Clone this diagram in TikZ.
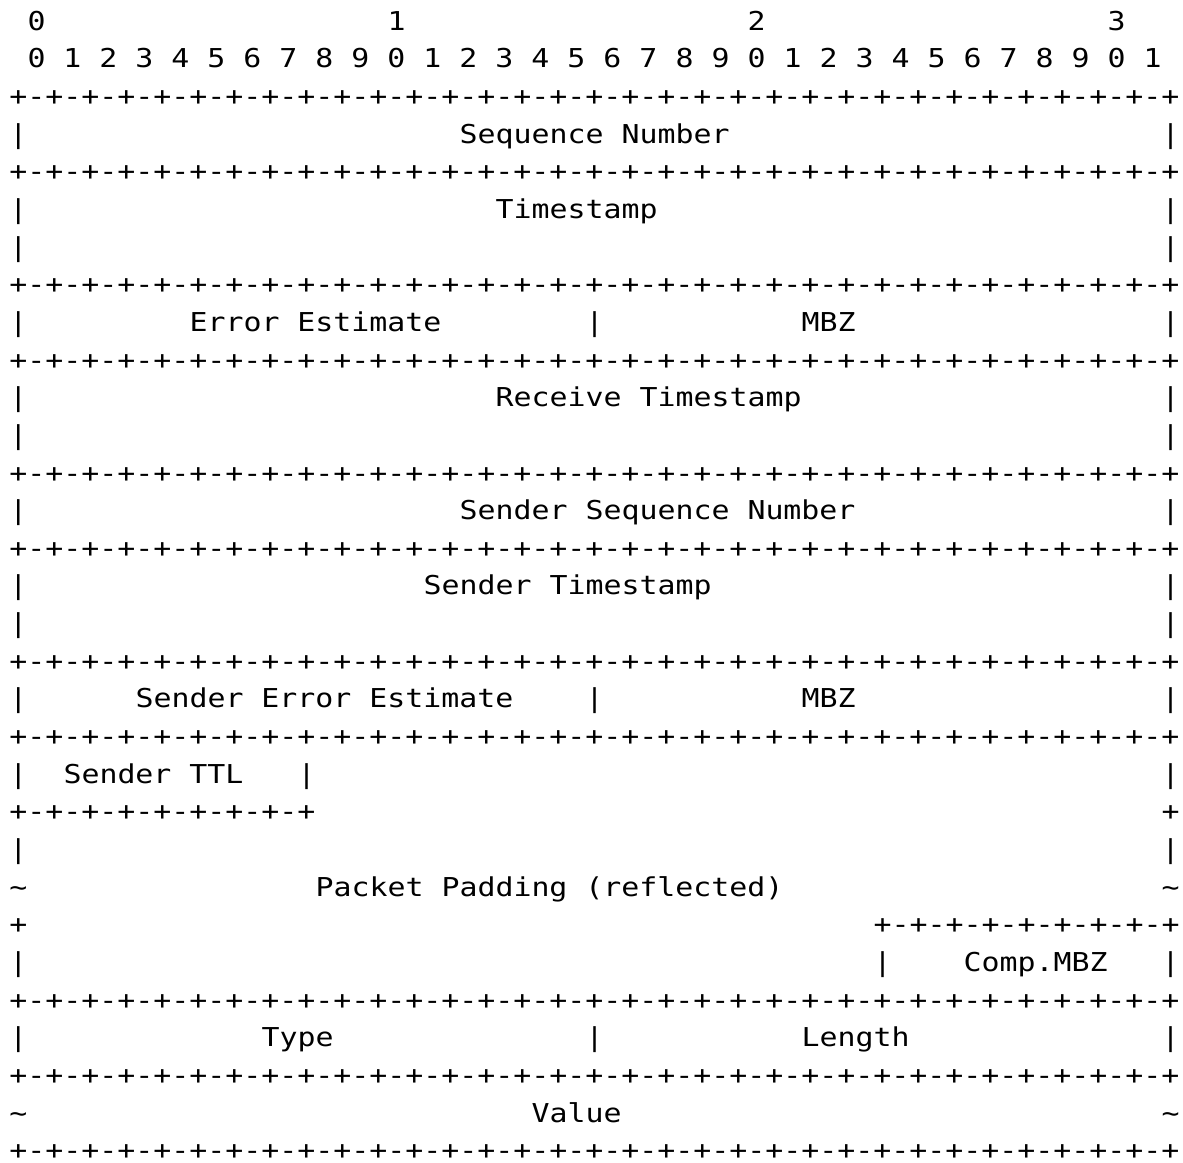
\documentclass[tikz,border=0pt]{standalone}
\usepackage{fontspec}
\newfontfamily\mono[FakeStretch=1.15]{DejaVu Sans Mono}
\def\eight{+-+-+-+-+-+-+-+-}
\def\full{\eight\eight\eight\eight+}
\def\part{\eight+}
\newcommand\tk[3]{\node[txt] (n#1x#2) at ({4.75pt+9pt*#2},{-15pt-18.833pt*(#1-1)}) {#3};}
\newcommand\vb[1]{\tk{#1}{0}{|}\tk{#1}{64}{|}}
\tikzset{txt/.style={inner sep=0pt, outer sep=0pt, anchor=base west, font=\mono\fontsize{13pt}{15pt}\selectfont, text=black}}
\begin{document}
\begin{tikzpicture}
\fill[white] (0,0) rectangle (591.5pt,-581pt);
\useasboundingbox (0,0) rectangle (591.5pt,-581pt);
% header
\tk{1}{1}{0}\tk{1}{21}{1}\tk{1}{41}{2}\tk{1}{61}{3}
\tk{2}{1}{0 1 2 3 4 5 6 7 8 9 0 1 2 3 4 5 6 7 8 9 0 1 2 3 4 5 6 7 8 9 0 1}
\tk{3}{0}{\full}
\vb{4}\tk{4}{25}{Sequence Number}
\tk{5}{0}{\full}
\vb{6}\tk{6}{27}{Timestamp}
\vb{7}
\tk{8}{0}{\full}
\vb{9}\tk{9}{10}{Error Estimate}\tk{9}{32}{|}\tk{9}{44}{MBZ}
\tk{10}{0}{\full}
\vb{11}\tk{11}{27}{Receive Timestamp}
\vb{12}
\tk{13}{0}{\full}
\vb{14}\tk{14}{25}{Sender Sequence Number}
\tk{15}{0}{\full}
\vb{16}\tk{16}{23}{Sender Timestamp}
\vb{17}
\tk{18}{0}{\full}
\vb{19}\tk{19}{7}{Sender Error Estimate}\tk{19}{32}{|}\tk{19}{44}{MBZ}
\tk{20}{0}{\full}
\vb{21}\tk{21}{3}{Sender TTL}\tk{21}{16}{|}
\tk{22}{0}{\part}\tk{22}{64}{+}
\vb{23}
\tk{24}{0}{\textasciitilde}\tk{24}{17}{Packet Padding (reflected)}\tk{24}{64}{\textasciitilde}
\tk{25}{0}{+}\tk{25}{48}{\part}
\vb{26}\tk{26}{48}{|}\tk{26}{53}{Comp.MBZ}
\tk{27}{0}{\full}
\vb{28}\tk{28}{14}{Type}\tk{28}{32}{|}\tk{28}{44}{Length}
\tk{29}{0}{\full}
\tk{30}{0}{\textasciitilde}\tk{30}{29}{Value}\tk{30}{64}{\textasciitilde}
\tk{31}{0}{\full}
\end{tikzpicture}
\end{document}
